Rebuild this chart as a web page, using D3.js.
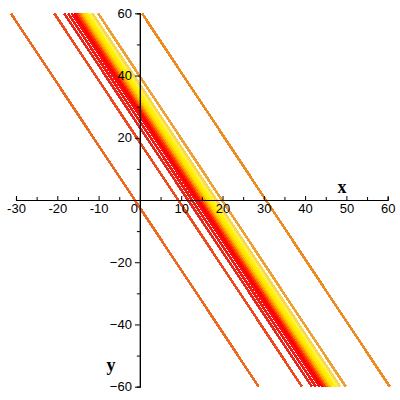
<!DOCTYPE html>
<html>
<head>
<meta charset="utf-8">
<script src="https://cdn.jsdelivr.net/npm/d3@7"></script>
<style>
  body { margin: 0; background: #fff; }
  .axis text { font-family: "Liberation Sans", Arial, sans-serif; font-size: 13px; fill: #000; }
  .axis path, .axis line { stroke: #000; }
  .lbl { font-family: "Liberation Serif", "Times New Roman", serif; font-weight: bold; font-size: 18px; }
</style>
</head>
<body>
<div id="chart"></div>
<script>
// contour levels: lines 2x + y = c
var levels = [-2.5, 18.5, 23.3, 25.2, 27, 28.4, 29.2, 30, 30.9, 31.8, 32.7, 33.6, 34.6, 35.8, 37, 39.7, 61];
var colors = ["#ee6a1e", "#ee4a1e", "#e82818", "#ee1c14", "#f41010", "#ff0000", "#ff1000", "#ff3800",
              "#ff7400", "#ffa800", "#ffd000", "#ffe800", "#fff200", "#fff050", "#f8d850", "#f0a030", "#ee8a20"];
var xTicks = [-30, -20, -10, 0, 10, 20, 30, 40, 50, 60];
var yTicks = [-60, -40, -20, 20, 40, 60];

var width = 400, height = 400;

var svg = d3.select("#chart").append("svg")
    .attr("width", width)
    .attr("height", height);

var x = d3.scaleLinear().domain([-30, 60]).range([16, 387.7]);
var y = d3.scaleLinear().domain([-60, 60]).range([386.7, 13.3]);

// lines
svg.selectAll(".cline")
    .data(levels)
    .enter()
    .append("line")
    .attr("class", "cline")
    .attr("x1", function(d) { return x((d - 60) / 2); })
    .attr("y1", y(60))
    .attr("x2", function(d) { return x((d + 60) / 2); })
    .attr("y2", y(-60))
    .attr("stroke", function(d, i) { return colors[i]; })
    .attr("stroke-width", 2.6)
    .attr("shape-rendering", "crispEdges");

// x axis, ticks up, labels below
svg.append("g")
    .attr("class", "axis")
    .attr("transform", "translate(0," + y(0) + ")")
    .call(d3.axisBottom(x).tickValues(d3.range(-25, 60, 10)).tickSize(-3).tickFormat(""));

var xAxis = svg.append("g")
    .attr("class", "axis")
    .attr("transform", "translate(0," + y(0) + ")")
    .call(d3.axisBottom(x).tickValues(xTicks).tickSizeInner(-4).tickSizeOuter(0).tickPadding(4)
        .tickFormat(function(d) { return d; }));
xAxis.selectAll(".tick")
    .filter(function(d) { return d === 0; })
    .select("text")
    .attr("x", -6);

// y axis
svg.append("g")
    .attr("class", "axis")
    .attr("transform", "translate(" + x(0) + ",0)")
    .call(d3.axisLeft(y).tickValues([-50, -30, -10, 10, 30, 50]).tickSize(3).tickFormat(""));

svg.append("g")
    .attr("class", "axis")
    .attr("transform", "translate(" + x(0) + ",0)")
    .call(d3.axisLeft(y).tickValues(yTicks).tickSizeInner(5).tickSizeOuter(0).tickPadding(3));

svg.selectAll(".axis .domain").attr("stroke-width", 1.2);

svg.append("text").attr("class", "lbl").attr("x", 342).attr("y", 193).attr("text-anchor", "middle").text("x");
svg.append("text").attr("class", "lbl").attr("x", 111).attr("y", 371).attr("text-anchor", "middle").text("y");
</script>
</body>
</html>
